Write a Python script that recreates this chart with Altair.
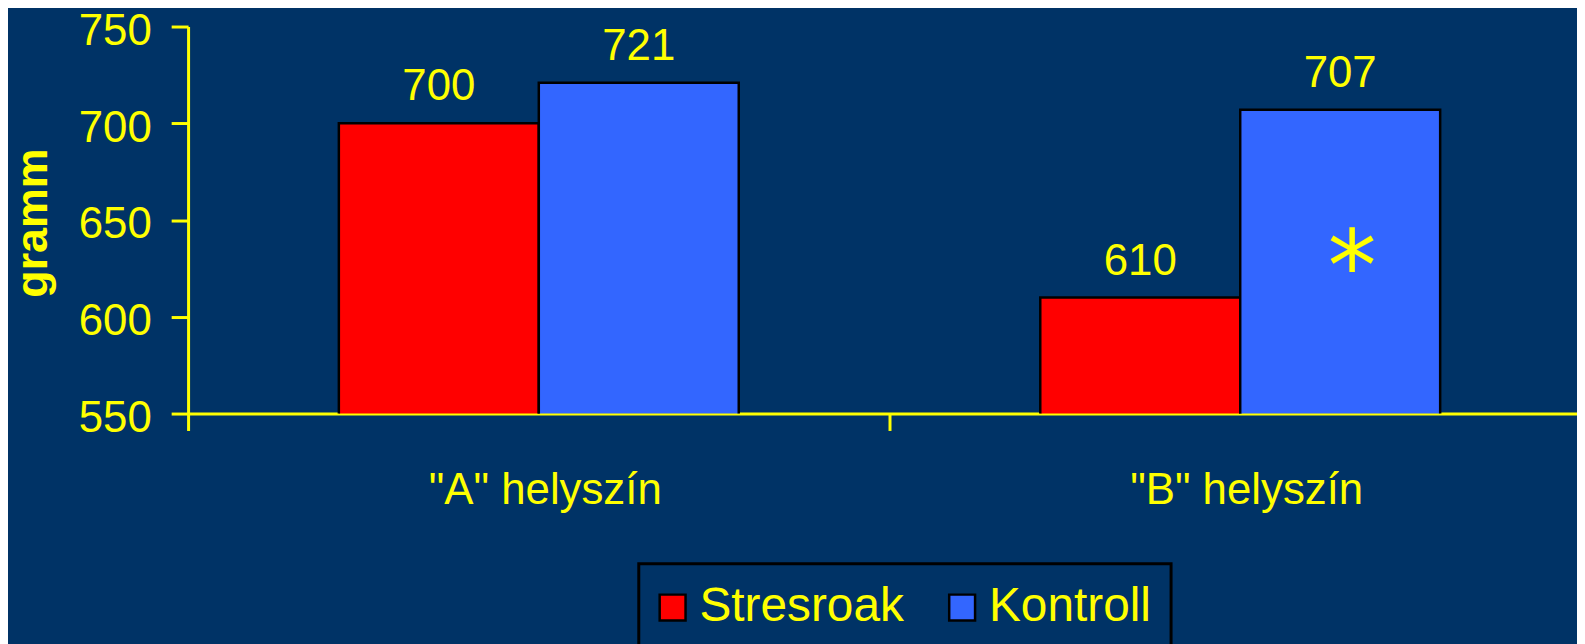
import altair as alt
import pandas as pd

sites = ['"A" helyszín', '"B" helyszín']
groups = ["Stresroak", "Kontroll"]
stresroak = [700, 610]
kontroll = [721, 707]
colors = ["#FF0000", "#3366FF"]

# significance marker
star_site = ['"B" helyszín']
star_group = ["Kontroll"]
star_value = [634]
star_text = ["*"]

BG = "#003366"
YEL = "#FFFF00"
FONT = "Liberation Sans"

rows = []
for i, s in enumerate(sites):
    rows.append({"site": s, "group": groups[0], "value": stresroak[i]})
    rows.append({"site": s, "group": groups[1], "value": kontroll[i]})
df = pd.DataFrame(rows)
star_df = pd.DataFrame({"site": star_site, "group": star_group,
                        "value": star_value, "text": star_text})

x_scale = alt.Scale(paddingInner=0, paddingOuter=0, range=[0, 1410])
xo_scale = alt.Scale(paddingInner=0, paddingOuter=0.754)
y_scale = alt.Scale(domain=[550, 750], zero=False, nice=False)

bars = alt.Chart(df).mark_bar(stroke="black", strokeWidth=2.5, clip=True).encode(
    x=alt.X("site:N", sort=sites, scale=x_scale,
            axis=alt.Axis(title=None, labelAngle=0, tickBand="extent",
                          labelPadding=38, labelFontSize=44, labelLimit=0,
                          labelOffset=6)),
    xOffset=alt.XOffset("group:N", sort=groups, scale=xo_scale),
    y=alt.Y("value:Q", scale=y_scale,
            axis=alt.Axis(values=[550, 600, 650, 700, 750], grid=False,
                          title="gramm", titleFontWeight="bold", titleFontSize=45,
                          titleAngle=-90, titleAlign="center", titleBaseline="middle",
                          titleX=-156, titleY=197,
                          labelPadding=20, labelOffset=5, labelFontSize=44)),
    color=alt.Color("group:N", sort=groups,
                    scale=alt.Scale(domain=groups, range=colors),
                    legend=alt.Legend(title=None, orient="none", direction="horizontal",
                                      legendX=453, legendY=540,
                                      symbolType="square", symbolSize=676,
                                      symbolStrokeColor="black", symbolStrokeWidth=2.5,
                                      symbolOpacity=1, symbolOffset=-10,
                                      labelFontSize=48, labelColor=YEL, labelFont=FONT,
                                      labelLimit=0, labelOffset=3, columnPadding=40,
                                      padding=20, strokeColor="black",
                                      fillColor=BG)),
)

labels = alt.Chart(df).mark_text(baseline="alphabetic", dy=-23, fontSize=44,
                                 color=YEL, font=FONT).encode(
    x=alt.X("site:N", sort=sites, scale=x_scale),
    xOffset=alt.XOffset("group:N", sort=groups, scale=xo_scale),
    y=alt.Y("value:Q", scale=y_scale),
    text=alt.Text("value:Q"),
)

star = alt.Chart(star_df).mark_text(baseline="middle", fontSize=98, dx=12, dy=20,
                                    color=YEL, font="DejaVu Sans").encode(
    x=alt.X("site:N", sort=sites, scale=x_scale),
    xOffset=alt.XOffset("group:N", sort=groups, scale=xo_scale),
    y=alt.Y("value:Q", scale=y_scale),
    text=alt.Text("text:N"),
)

chart = alt.layer(bars, labels, star).properties(
    width=1396, height=389,
    autosize=alt.AutoSizeParams(type="none"),
    padding={"left": 181, "top": 17, "right": 0, "bottom": 230},
    background=BG,
).configure_view(stroke=None).configure_axis(
    domainColor=YEL, domainWidth=3, tickColor=YEL, tickWidth=3, tickSize=17,
    labelColor=YEL, labelFont=FONT, titleColor=YEL, titleFont=FONT,
).configure_legend(strokeWidth=3)

chart.save("out.html", embed_options={"renderer": "svg", "actions": False})
